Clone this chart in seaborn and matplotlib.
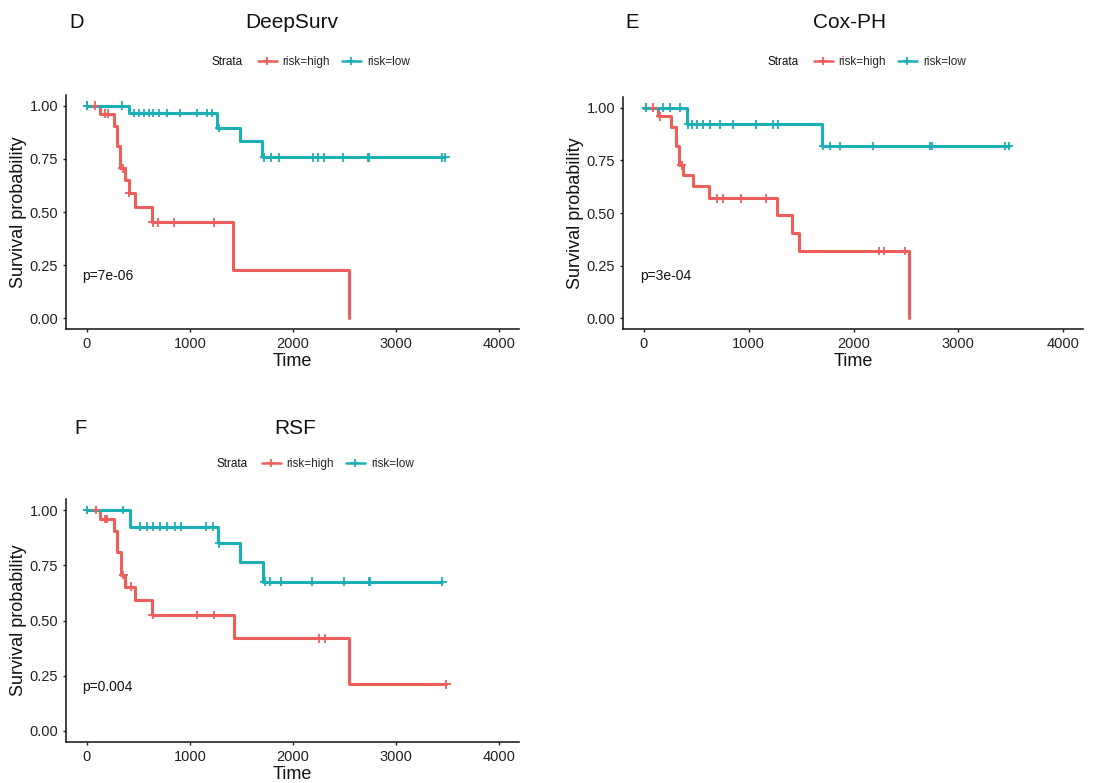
import numpy as np
import pandas as pd
import matplotlib
matplotlib.use('Agg')
import matplotlib.pyplot as plt
from matplotlib.lines import Line2D
import seaborn as sns

# curve di sopravvivenza (tempi degli eventi, sopravvivenza dopo ogni evento, censure)

deepsurv_high_times = [130, 266, 292, 325, 373, 406, 464, 633, 1419, 2539]
deepsurv_high_surv = [0.962, 0.906, 0.81, 0.706, 0.65, 0.59, 0.523, 0.452, 0.228, 0.0]
deepsurv_high_cens = [5, 80, 180, 210, 350, 415, 640, 688, 844, 1234]
deepsurv_low_times = [406, 1266, 1484, 1698]
deepsurv_low_surv = [0.965, 0.895, 0.832, 0.758]
deepsurv_low_cens = [5, 340, 455, 503, 552, 600, 640, 698, 779, 909, 1071, 1169, 1218, 1282,
                     1721, 1786, 1867, 2192, 2240, 2299, 2484, 2727, 2740, 3442, 3474]

cox_high_times = [137, 258, 303, 334, 376, 471, 621, 1274, 1417, 1484, 2532]
cox_high_surv = [0.959, 0.908, 0.82, 0.727, 0.68, 0.627, 0.569, 0.49, 0.405, 0.32, 0.0]
cox_high_cens = [20, 90, 153, 360, 694, 758, 927, 1166, 2239, 2293, 2487]
cox_low_times = [408, 1697]
cox_low_surv = [0.921, 0.818]
cox_low_cens = [20, 185, 248, 344, 424, 455, 503, 567, 631, 726, 854, 1070, 1229, 1283,
                1713, 1771, 1873, 2185, 2733, 2745, 3449, 3481]

rsf_high_times = [129, 268, 297, 329, 371, 468, 629, 1429, 2539]
rsf_high_surv = [0.959, 0.906, 0.81, 0.706, 0.653, 0.593, 0.525, 0.42, 0.211]
rsf_high_cens = [6, 87, 177, 200, 355, 429, 640, 1065, 1235, 2248, 2306, 3484]
rsf_low_times = [419, 1274, 1490, 1710]
rsf_low_surv = [0.925, 0.849, 0.766, 0.675]
rsf_low_cens = [6, 355, 516, 581, 645, 710, 774, 855, 919, 1161, 1226, 1282, 1726, 1781,
                1881, 2187, 2490, 2735, 2745, 3445]

strata = ['risk=high', 'risk=low']
colors = {'risk=high': '#EE5F5B', 'risk=low': '#1AB0B5'}

panels = [
    ('D', 'DeepSurv', 'p=7e-06',
     [(deepsurv_high_times, deepsurv_high_surv, deepsurv_high_cens),
      (deepsurv_low_times, deepsurv_low_surv, deepsurv_low_cens)]),
    ('E', 'Cox-PH', 'p=3e-04',
     [(cox_high_times, cox_high_surv, cox_high_cens),
      (cox_low_times, cox_low_surv, cox_low_cens)]),
    ('F', 'RSF', 'p=0.004',
     [(rsf_high_times, rsf_high_surv, rsf_high_cens),
      (rsf_low_times, rsf_low_surv, rsf_low_cens)]),
]

sns.set_theme(style='ticks')
plt.rcParams['font.family'] = ['Liberation Sans', 'DejaVu Sans']

W, H = 1112, 783
fig = plt.figure(figsize=(W / 100, H / 100), dpi=100)

# posizioni in pixel: (sinistra, alto, destra, basso) degli assi, titolo, legenda
layout = [
    dict(ax=(66, 95, 519, 329), letter=(77, 23), title=(292, 23), strata=(212, 62), leg=(252, 62)),
    dict(ax=(623, 97, 1083, 329), letter=(632, 23), title=(850, 23), strata=(768, 62), leg=(808, 62)),
    dict(ax=(66, 499, 519, 742), letter=(80, 428), title=(295, 428), strata=(216, 464), leg=(256, 464)),
]


def fx(x):
    return x / W


def fy(y):
    return 1 - y / H


def surv_at(times, surv, t):
    idx = np.searchsorted(times, t, side='right')
    vals = np.concatenate([[1.0], surv])
    return vals[idx]


for (letter, title, pval, groups), lay in zip(panels, layout):
    l, t, r, b = lay['ax']
    ax = fig.add_axes([fx(l), fy(b), fx(r - l), (b - t) / H])

    steps = []
    cens = []
    for name, (times, surv, cn) in zip(strata, groups):
        end = max(times[-1], max(cn))
        tt = [0] + list(times) + [end]
        ss = [1.0] + list(surv) + [surv[-1]]
        steps.append(pd.DataFrame({'Time': tt, 'Surv': ss, 'Strata': name}))
        cens.append(pd.DataFrame({'Time': cn,
                                  'Surv': surv_at(np.array(times), np.array(surv), np.array(cn)),
                                  'Strata': name}))
    df_steps = pd.concat(steps, ignore_index=True)
    df_cens = pd.concat(cens, ignore_index=True)

    sns.lineplot(data=df_steps, x='Time', y='Surv', hue='Strata', palette=colors,
                 drawstyle='steps-post', estimator=None, sort=False, lw=2.2,
                 legend=False, ax=ax)
    sns.scatterplot(data=df_cens, x='Time', y='Surv', hue='Strata', palette=colors,
                    marker='+', s=40, linewidth=1.3, legend=False, ax=ax, zorder=3)

    ax.set_xlim(-200, 4190)
    ax.set_ylim(-0.05, 1.05)
    ax.set_xticks([0, 1000, 2000, 3000, 4000])
    ax.set_yticks([0, 0.25, 0.5, 0.75, 1.0])
    ax.set_yticklabels(['0.00', '0.25', '0.50', '0.75', '1.00'])
    ax.tick_params(labelsize=10.5, colors='#222222', length=2.5, width=1, pad=3)
    ax.set_xlabel('Time', fontsize=13, color='#111111', labelpad=2)
    ax.set_ylabel('Survival probability', fontsize=13, color='#111111', labelpad=2)
    for s in ['top', 'right']:
        ax.spines[s].set_visible(False)
    for s in ['left', 'bottom']:
        ax.spines[s].set_linewidth(1.1)
        ax.spines[s].set_color('#111111')

    ax.text(-40, 0.2, pval, fontsize=10, va='center', ha='left', color='#111111')

    fig.text(fx(lay['letter'][0]), fy(lay['letter'][1]), letter, fontsize=14.5,
             ha='center', va='center', color='#111111')
    fig.text(fx(lay['title'][0]), fy(lay['title'][1]), title, fontsize=15,
             ha='center', va='center', color='#111111')
    fig.text(fx(lay['strata'][0]), fy(lay['strata'][1]), 'Strata', fontsize=8.5,
             ha='left', va='center', color='#111111')
    handles = [Line2D([0], [0], color=colors[s], lw=1.8, marker='+', ms=6, mew=1.3)
               for s in strata]
    fig.legend(handles, strata, loc='center left',
               bbox_to_anchor=(fx(lay['leg'][0]), fy(lay['leg'][1])),
               ncol=2, frameon=False, fontsize=8.5, handlelength=1.6,
               handletextpad=0.5, columnspacing=1.0, borderpad=0)

fig.savefig('out.png', dpi=100)
